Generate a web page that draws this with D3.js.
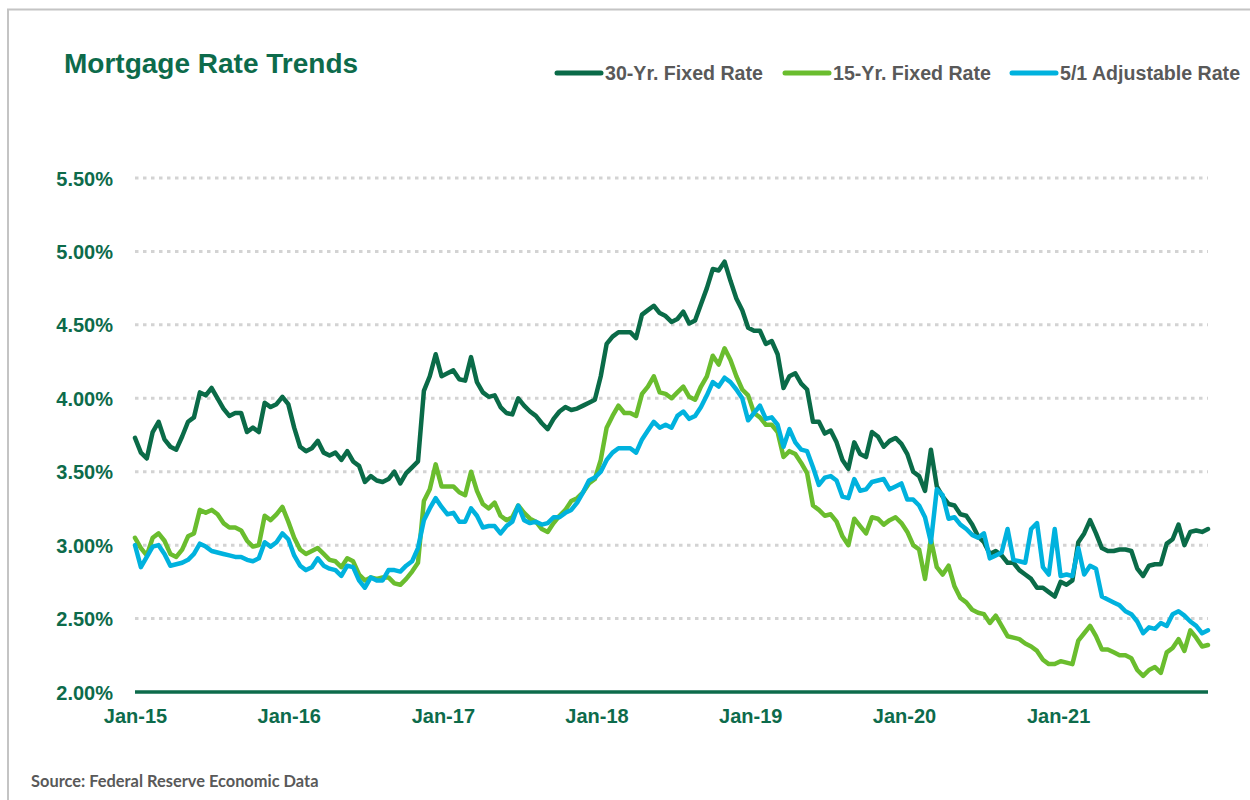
<!DOCTYPE html>
<html><head><meta charset="utf-8">
<script src="https://cdn.jsdelivr.net/npm/d3@7"></script>
<style>body{margin:0;background:#fff} svg{display:block}</style>
</head><body><svg id="c" width="1250" height="800"></svg>
<script>
// ---- data (biweekly readings, first week Jan 8 2015) ----
const startDate = "2015-01-08";
const stepDays = 14;
const fixed30 = [
3.73,3.63,3.59,3.77,3.84,3.72,3.67,3.65,3.74,3.84,
3.87,4.04,4.02,4.07,4.00,3.93,3.88,3.90,3.90,3.77,
3.80,3.77,3.97,3.94,3.96,4.01,3.96,3.80,3.67,3.64,
3.66,3.71,3.63,3.61,3.63,3.58,3.64,3.57,3.54,3.43,
3.47,3.44,3.43,3.45,3.50,3.42,3.49,3.53,3.57,4.05,
4.15,4.30,4.15,4.17,4.19,4.13,4.12,4.28,4.11,4.04,
4.01,4.02,3.94,3.90,3.89,4.00,3.95,3.91,3.88,3.83,
3.79,3.86,3.91,3.94,3.92,3.93,3.95,3.97,3.99,4.15,
4.37,4.42,4.45,4.45,4.45,4.41,4.57,4.60,4.63,4.58,
4.56,4.52,4.54,4.59,4.51,4.53,4.64,4.75,4.88,4.87,
4.93,4.80,4.68,4.60,4.48,4.46,4.46,4.37,4.39,4.30,
4.07,4.15,4.17,4.10,4.06,3.84,3.84,3.76,3.78,3.70,
3.58,3.52,3.70,3.62,3.60,3.77,3.74,3.67,3.71,3.73,
3.69,3.62,3.50,3.47,3.37,3.65,3.40,3.33,3.28,3.27,
3.21,3.20,3.14,3.06,3.02,2.94,2.96,2.93,2.88,2.88,
2.83,2.80,2.77,2.71,2.71,2.68,2.65,2.75,2.73,2.76,
3.02,3.08,3.17,3.08,2.98,2.96,2.96,2.97,2.97,2.96,
2.84,2.79,2.86,2.87,2.87,3.01,3.04,3.14,3.00,3.09,
3.10,3.09,3.11];
const fixed15 = [
3.05,2.98,2.93,3.05,3.08,3.03,2.94,2.92,2.97,3.06,
3.08,3.24,3.22,3.24,3.21,3.15,3.12,3.12,3.10,3.03,
2.99,3.00,3.20,3.17,3.21,3.26,3.16,3.05,2.97,2.94,
2.96,2.98,2.94,2.90,2.89,2.85,2.91,2.89,2.80,2.76,
2.78,2.77,2.78,2.78,2.74,2.73,2.77,2.82,2.88,3.30,
3.38,3.55,3.40,3.40,3.40,3.36,3.34,3.50,3.37,3.28,
3.25,3.29,3.20,3.17,3.19,3.27,3.22,3.18,3.16,3.11,
3.09,3.15,3.20,3.24,3.30,3.32,3.36,3.42,3.45,3.58,
3.80,3.88,3.95,3.90,3.90,3.88,4.03,4.08,4.15,4.04,
4.03,4.00,4.04,4.08,4.01,3.99,4.08,4.15,4.29,4.23,
4.34,4.26,4.15,4.06,4.02,3.90,3.87,3.82,3.82,3.77,
3.60,3.64,3.62,3.56,3.49,3.27,3.24,3.20,3.21,3.16,
3.06,3.00,3.18,3.13,3.08,3.19,3.18,3.14,3.17,3.19,
3.15,3.09,3.00,2.97,2.77,3.04,2.85,2.80,2.86,2.72,
2.64,2.61,2.56,2.54,2.53,2.47,2.52,2.45,2.38,2.37,
2.36,2.33,2.31,2.28,2.22,2.19,2.19,2.21,2.20,2.19,
2.35,2.40,2.45,2.38,2.29,2.29,2.27,2.25,2.25,2.23,
2.15,2.11,2.15,2.17,2.13,2.27,2.30,2.36,2.28,2.42,
2.37,2.31,2.32];
const arm51 = [
3.00,2.85,2.92,2.99,3.00,2.94,2.86,2.87,2.88,2.90,
2.94,3.01,2.99,2.96,2.95,2.94,2.93,2.92,2.92,2.90,
2.89,2.91,3.02,2.99,3.02,3.08,3.04,2.93,2.86,2.83,
2.85,2.91,2.86,2.84,2.83,2.79,2.86,2.85,2.76,2.71,
2.78,2.76,2.76,2.83,2.83,2.82,2.86,2.89,2.98,3.17,
3.25,3.32,3.26,3.21,3.22,3.16,3.16,3.25,3.20,3.12,
3.13,3.13,3.08,3.13,3.16,3.27,3.17,3.15,3.16,3.14,
3.15,3.19,3.19,3.22,3.24,3.29,3.36,3.44,3.46,3.50,
3.58,3.63,3.66,3.66,3.66,3.63,3.72,3.78,3.84,3.80,
3.82,3.80,3.88,3.91,3.86,3.88,3.94,4.02,4.11,4.08,
4.14,4.11,4.06,4.00,3.85,3.90,3.95,3.86,3.87,3.82,
3.67,3.79,3.70,3.65,3.64,3.53,3.41,3.46,3.47,3.44,
3.33,3.32,3.45,3.37,3.38,3.43,3.44,3.45,3.38,3.40,
3.42,3.31,3.31,3.27,3.19,3.02,3.38,3.34,3.18,3.19,
3.14,3.11,3.07,3.05,3.08,2.91,2.93,2.95,3.11,2.90,
2.89,2.88,3.11,3.15,2.85,2.80,3.11,2.79,2.80,2.79,
2.98,2.80,2.86,2.84,2.65,2.63,2.61,2.59,2.55,2.53,
2.48,2.40,2.44,2.43,2.47,2.45,2.53,2.55,2.52,2.48,
2.45,2.40,2.42];
const seriesNames = ["30-Yr. Fixed Rate", "15-Yr. Fixed Rate", "5/1 Adjustable Rate"];
const yTicks = [2.0, 2.5, 3.0, 3.5, 4.0, 4.5, 5.0, 5.5];
const xTickLabels = ["Jan-15", "Jan-16", "Jan-17", "Jan-18", "Jan-19", "Jan-20", "Jan-21"];
const titleText = "Mortgage Rate Trends";
const sourceText = "Source: Federal Reserve Economic Data";

// ---- styles ----
const colors = ["#0A6B48", "#6ABD2E", "#00B2DE"];
const textGreen = "#0D6B4B";
const font = "'Liberation Sans', Arial, sans-serif";

const svg = d3.select("#c");
const parse = d3.timeParse("%Y-%m-%d");
const d0 = parse(startDate);
const dates = fixed30.map((_, i) => d3.timeDay.offset(d0, i * stepDays));
const series = [fixed30, fixed15, arm51];

const x = d3.scaleTime().domain([dates[0], dates[dates.length - 1]]).range([135, 1208]);
const y = d3.scaleLinear().domain([2, 5.5]).range([692, 178]);

// frame
svg.append("rect").attr("x", 8).attr("y", 9.5).attr("width", 1260).attr("height", 820)
  .attr("fill", "none").attr("stroke", "#c4c4c4").attr("stroke-width", 2);

// title
svg.append("text").attr("x", 64).attr("y", 73).text(titleText)
  .attr("font-family", font).attr("font-weight", "bold").attr("font-size", 28).attr("fill", textGreen);

// gridlines
svg.append("g").selectAll("line").data(yTicks.filter(v => v > 2)).join("line")
  .attr("x1", 135).attr("x2", 1208).attr("y1", d => y(d)).attr("y2", d => y(d))
  .attr("stroke", "#d3d3d3").attr("stroke-width", 3).attr("stroke-dasharray", "3.5,4.5");

// y labels
const yAxis = d3.axisLeft(y).tickValues(yTicks).tickFormat(d => d3.format(".2f")(d) + "%").tickSize(0).tickPadding(0);
const gy = svg.append("g").attr("transform", "translate(113,0)").call(yAxis);
gy.select(".domain").remove();
gy.selectAll("text").attr("font-family", font).attr("font-weight", "bold").attr("font-size", 20)
  .attr("fill", textGreen).attr("dy", "0.35em");

// x axis
const tickDates = xTickLabels.map(s => d3.timeYear.offset(d0, +s.slice(4) - 15));
const xAxis = d3.axisBottom(x).tickValues(tickDates).tickFormat(d3.timeFormat("%b-%y")).tickSize(0).tickPadding(0);
const gx = svg.append("g").attr("transform", "translate(0,692)").call(xAxis);
gx.select(".domain").attr("stroke", textGreen).attr("stroke-width", 3.5).attr("d", "M135,0H1208");
gx.selectAll("text").attr("font-family", font).attr("font-weight", "bold").attr("font-size", 20)
  .attr("fill", textGreen).attr("dy", null).attr("y", 31);

// lines
const line = d3.line().x((d, i) => x(dates[i])).y(d => y(d)).curve(d3.curveLinear);
svg.append("g").selectAll("path").data(series).join("path")
  .attr("d", d => line(d)).attr("fill", "none")
  .attr("stroke", (d, i) => colors[i]).attr("stroke-width", 4.5)
  .attr("stroke-linejoin", "round").attr("stroke-linecap", "round");

// legend
const legendX = [557, 785, 1012];
const lg = svg.append("g").selectAll("g").data(seriesNames).join("g")
  .attr("transform", (d, i) => `translate(${legendX[i]},73)`);
lg.append("line").attr("x1", 0).attr("x2", 44).attr("y1", 0).attr("y2", 0)
  .attr("stroke", (d, i) => colors[i]).attr("stroke-width", 5).attr("stroke-linecap", "round");
lg.append("text").attr("x", 48).attr("y", 7).text(d => d)
  .attr("font-family", font).attr("font-weight", "bold").attr("font-size", 19.6).attr("fill", "#595959");

// source
svg.append("text").attr("x", 31).attr("y", 787).text(sourceText)
  .attr("font-family", "Lato, sans-serif").attr("font-weight", "bold").attr("font-size", 16.4).attr("fill", "#595959");
</script></body></html>
